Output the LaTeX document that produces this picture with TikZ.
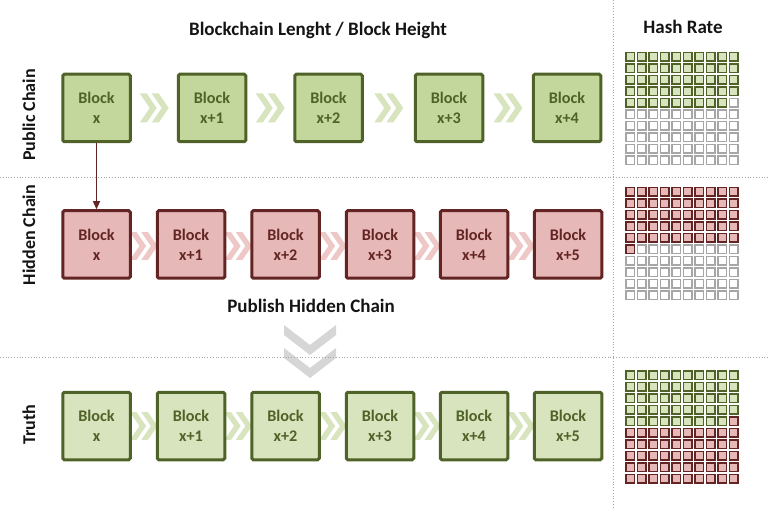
\documentclass[tikz,border=0pt]{standalone}
\usepackage{fontspec}
\setmainfont{Carlito}
\usepackage{xcolor}
\usetikzlibrary{calc, arrows.meta}
\definecolor{leaf}{HTML}{4F6228}
\definecolor{leafbg}{HTML}{C3D69B}
\definecolor{leaflt}{HTML}{D7E4BD}
\definecolor{wine}{HTML}{632523}
\definecolor{rose}{HTML}{E6B9B8}
\definecolor{roselt}{HTML}{EDC8C7}
\definecolor{mist}{HTML}{D6D6D6}
\definecolor{rule}{HTML}{A6A6A6}
\definecolor{ink}{HTML}{141414}
\pgfdeclarelayer{bg}
\pgfsetlayers{bg,main}

\begin{document}
\begin{tikzpicture}[x=1pt, y=-1pt,
  blk/.style={draw, line width=3pt, rounded corners=1.5pt, minimum size=67.5pt,
    inner sep=0pt, align=center, font=\fontsize{16.2}{20}\selectfont\bfseries},
  pubblk/.style={blk, draw=leaf, fill=leafbg, text=leaf},
  hidblk/.style={blk, draw=wine, fill=rose, text=wine},
  trublk/.style={blk, draw=leaf, fill=leaflt, text=leaf},
  head/.style={font=\fontsize{19}{22}\selectfont\bfseries, text=ink},
  side/.style={head, rotate=90, font=\fontsize{18}{21}\selectfont\bfseries},
  sep/.style={draw=rule, dotted, line width=0.8pt},
  leafcell/.style={draw=leaf, fill=leaflt, line width=1.5pt},
  winecell/.style={draw=wine, fill=rose, line width=1.5pt},
  nilcell/.style={draw=rule, fill=white, line width=1.5pt},
  dblchev/.pic={
    \foreach \o in {0,12}
      \fill[pic actions] (-14.5+\o,-14.5) -- ++(7,0) -- ++(10,14.5) -- ++(-10,14.5)
        -- ++(-7,0) -- ++(10,-14.5) -- cycle;
  },
  dnchev/.pic={
    \foreach \o in {0,23}
      \fill[pic actions] (-26,-26.5+\o) -- ++(0,10) -- ++(26,20) -- ++(26,-20)
        -- ++(0,-10) -- ++(-26,20) -- cycle;
  }]
  \useasboundingbox (0,0) rectangle (768,510);

  \draw[sep] (0,177) -- (768,177);
  \draw[sep] (0,357) -- (768,357);
  \draw[sep] (613,0) -- (613,510);

  \node[head] (title) at (318,30) {Blockchain Lenght / Block Height};
  \node[head] (hash) at (683,27) {Hash Rate};
  \node[side] (publab) at (29,115) {Public Chain};
  \node[side] (hidlab) at (29,235) {Hidden Chain};
  \node[side] (trulab) at (29,425) {Truth};
  \node[head] (publish) at (311,306) {Publish Hidden Chain};

  \foreach \i/\x/\t in {0/96.5/x, 1/212/x+1, 2/328.5/x+2, 3/449/x+3, 4/567/x+4}
    \node[pubblk] (pub\i) at (\x,108) {Block\\\t};
  \foreach \i/\x/\t in {0/96.5/x, 1/191/x+1, 2/285.5/x+2, 3/380/x+3, 4/474/x+4, 5/568/x+5} {
    \node[hidblk] (hid\i) at (\x,244.5) {Block\\\t};
    \node[trublk] (tru\i) at (\x,426) {Block\\\t};
  }

  \begin{pgfonlayer}{bg}
    \foreach \i [count=\j] in {0,...,3}
      \pic[fill=leaflt] at ($(pub\i.east)!0.5!(pub\j.west)$) {dblchev};
    \foreach \i [count=\j] in {0,...,4} {
      \pic[fill=roselt, scale=0.95] at ($(hid\i.east)!0.5!(hid\j.west)+(0,1.5)$) {dblchev};
      \pic[fill=leaflt, scale=0.95] at ($(tru\i.east)!0.5!(tru\j.west)$) {dblchev};
    }
    \coordinate (drop) at (310,351.5);
    \pic[fill=mist] at (drop) {dnchev};
  \end{pgfonlayer}

  \draw[wine, line width=1.2pt, -{Triangle[length=8pt, width=7pt]}] (pub0) -- (hid0);

  \foreach \gy/\na/\nb/\ca/\cb in {52/49/0/leafcell/nilcell, 187/51/0/winecell/nilcell,
      370/49/51/leafcell/winecell}
    \foreach \r in {0,...,9}
      \foreach \c in {0,...,9} {
        \pgfmathtruncatemacro\n{10*\r+\c}
        \ifnum\n<\na \def\cellsty{\ca}\else
          \ifnum\n<\numexpr\na+\nb\relax \def\cellsty{\cb}\else\def\cellsty{nilcell}\fi\fi
        \draw[\cellsty] (625.75+11.5*\c, \gy+0.75+11.5*\r) rectangle ++(8.5,8.5);
      }
\end{tikzpicture}
\end{document}
